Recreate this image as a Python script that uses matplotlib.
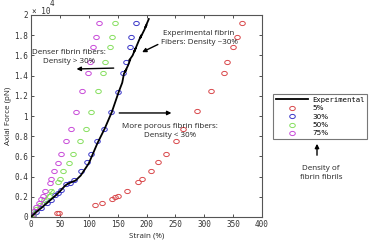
import numpy as np
import matplotlib
matplotlib.use('Agg')
import matplotlib.pyplot as plt
from matplotlib.path import Path

# --- data (strain in %, force in 1e4 pN) ---
exp_strain = [0, 9, 18, 26, 34, 42, 51, 59, 64, 68, 72, 77, 86, 100, 115, 128, 140, 152,
              158, 161, 165, 163, 168, 172, 170, 176, 181, 179, 187, 191, 189, 196, 200, 198, 204]
exp_force = [0, 0.05, 0.09, 0.13, 0.17, 0.21, 0.26, 0.31, 0.33, 0.34, 0.35, 0.36, 0.41, 0.53,
             0.73, 0.88, 1.04, 1.24, 1.33, 1.42, 1.46, 1.44, 1.50, 1.56, 1.55, 1.60, 1.67, 1.64,
             1.75, 1.80, 1.77, 1.85, 1.90, 1.88, 1.96]

green_line_strain = [3, 38]
green_line_force = [0.02, 0.27]

s5 = [365, 356, 350, 340, 334, 312, 288, 264, 251, 233, 220, 207, 192, 185, 166, 150, 146,
      140, 123, 110, 49, 45]
f5 = [1.92, 1.78, 1.68, 1.53, 1.43, 1.25, 1.05, 0.87, 0.75, 0.62, 0.54, 0.46, 0.375, 0.35,
      0.26, 0.21, 0.195, 0.18, 0.14, 0.12, 0.04, 0.04]

s30 = [181, 174, 172, 165, 160, 151, 138, 127, 115, 104, 97, 87, 74, 67, 61, 52, 46, 41,
       35, 27, 18, 9, 3]
f30 = [1.92, 1.78, 1.68, 1.53, 1.43, 1.24, 1.04, 0.87, 0.75, 0.62, 0.54, 0.46, 0.37, 0.34,
       0.33, 0.27, 0.235, 0.22, 0.17, 0.135, 0.09, 0.05, 0.02]

s50 = [146, 140, 136, 129, 124, 116, 104, 95, 84, 73, 65, 56, 50, 46, 35, 31, 23, 16, 9, 3]
f50 = [1.92, 1.78, 1.68, 1.53, 1.43, 1.25, 1.04, 0.87, 0.75, 0.62, 0.53, 0.46, 0.375, 0.345,
       0.26, 0.21, 0.17, 0.12, 0.08, 0.03]

s75 = [118, 112, 108, 103, 99, 88, 78, 69, 61, 52, 46, 40, 34, 33, 25, 21, 18, 13, 9, 5, 1]
f75 = [1.92, 1.78, 1.68, 1.53, 1.43, 1.25, 1.04, 0.87, 0.75, 0.62, 0.53, 0.46, 0.375, 0.34,
       0.26, 0.21, 0.175, 0.135, 0.10, 0.06, 0.01]

xticks = [0, 50, 100, 150, 200, 250, 300, 350, 400]
yticks = [0, 0.2, 0.4, 0.6, 0.8, 1.0, 1.2, 1.4, 1.6, 1.8, 2.0]
ytick_labels = ['0', '0.2', '0.4', '0.6', '0.8', '1', '1.2', '1.4', '1.6', '1.8', '2']

fig = plt.figure(figsize=(3.75, 2.42), dpi=100)
ax = fig.add_axes([31 / 375, 1 - 217 / 242, 231 / 375, 202 / 242])

red, blue, green, purple = '#d9474a', '#3a36c8', '#86df5e', '#c84ad8'

# slightly flattened open circle, like the reference markers
t = np.linspace(0, 2 * np.pi, 40)
ellipse = Path(np.column_stack([np.cos(t), 0.75 * np.sin(t)]), closed=True)
mk = dict(marker=ellipse, linestyle='none', markerfacecolor='none', markersize=4,
          markeredgewidth=0.7)

ax.plot(green_line_strain, green_line_force, color=green, lw=0.8, zorder=2)
h_exp, = ax.plot(exp_strain, exp_force, color='black', lw=1.3, zorder=4, label='Experimental')
h5, = ax.plot(s5, f5, color=red, label='5%', **mk)
h30, = ax.plot(s30, f30, color=blue, label='30%', **mk)
h50, = ax.plot(s50, f50, color=green, label='50%', **mk)
h75, = ax.plot(s75, f75, color=purple, label='75%', **mk)

ax.set_xlim(0, 400)
ax.set_ylim(0, 2)
ax.set_xticks(xticks)
ax.set_yticks(yticks)
ax.set_yticklabels(ytick_labels)
ax.tick_params(direction='in', length=2.5, width=0.6, top=True, right=True,
               labelsize=5.5, colors='#333333', pad=2)
for lab in ax.get_xticklabels() + ax.get_yticklabels():
    lab.set_family('DejaVu Sans Mono')
for sp in ax.spines.values():
    sp.set_color('#555555')
    sp.set_linewidth(0.8)

txt = dict(family='Open Sans', fontsize=5.8, color='#222222')
ax.set_xlabel('Strain (%)', labelpad=3, **txt)
ax.set_ylabel('Axial Force (pN)', labelpad=2, **txt)

fig.text(32 / 375, 1 - 11 / 242, '\u00d7 10', fontsize=5.5, family='DejaVu Sans Mono',
         color='#333333', va='center')
fig.text(50 / 375, 1 - 4 / 242, '4', fontsize=5.5, family='DejaVu Sans Mono',
         color='#333333', va='center')

# annotations
arrow = dict(arrowstyle='-|>', color='black', lw=1.0, mutation_scale=6)
ax.text(291, 1.77, 'Experimental fibrin\nFibers: Density ~30%', ha='center', va='center',
        linespacing=1.5, **txt)
ax.annotate('', xy=(188, 1.62), xytext=(224, 1.72), arrowprops=arrow)
ax.text(66, 1.585, 'Denser fibrin fibers:\nDensity > 30%', ha='center', va='center',
        linespacing=1.5, **txt)
ax.annotate('', xy=(74, 1.465), xytext=(148, 1.475), arrowprops=arrow)
ax.text(240, 0.85, 'More porous fibrin fibers:\nDensity < 30%', ha='center', va='center',
        linespacing=1.5, **txt)
ax.annotate('', xy=(248, 1.03), xytext=(148, 1.03), arrowprops=arrow)

leg = fig.legend(handles=[h_exp, h5, h30, h50, h75], loc='upper left',
                 bbox_to_anchor=(273 / 375, 1 - 94 / 242), fontsize=5.2, frameon=True,
                 fancybox=False, borderpad=0.4, labelspacing=0.32, handlelength=4.4,
                 handletextpad=0.6, borderaxespad=0)
leg.get_frame().set_edgecolor('#555555')
leg.get_frame().set_linewidth(0.8)
leg.texts[0].set_family('DejaVu Sans Mono')

fig.text(321 / 375, 1 - 173 / 242, 'Density of\nfibrin fibrils', ha='center', va='center',
         linespacing=1.5, **txt)
fig.patches.append(matplotlib.patches.FancyArrowPatch(
    (317 / 375, 1 - 158 / 242), (317 / 375, 1 - 141 / 242), transform=fig.transFigure,
    arrowstyle='-|>', color='black', lw=1.0, mutation_scale=6))

fig.savefig('out.png', dpi=100)
